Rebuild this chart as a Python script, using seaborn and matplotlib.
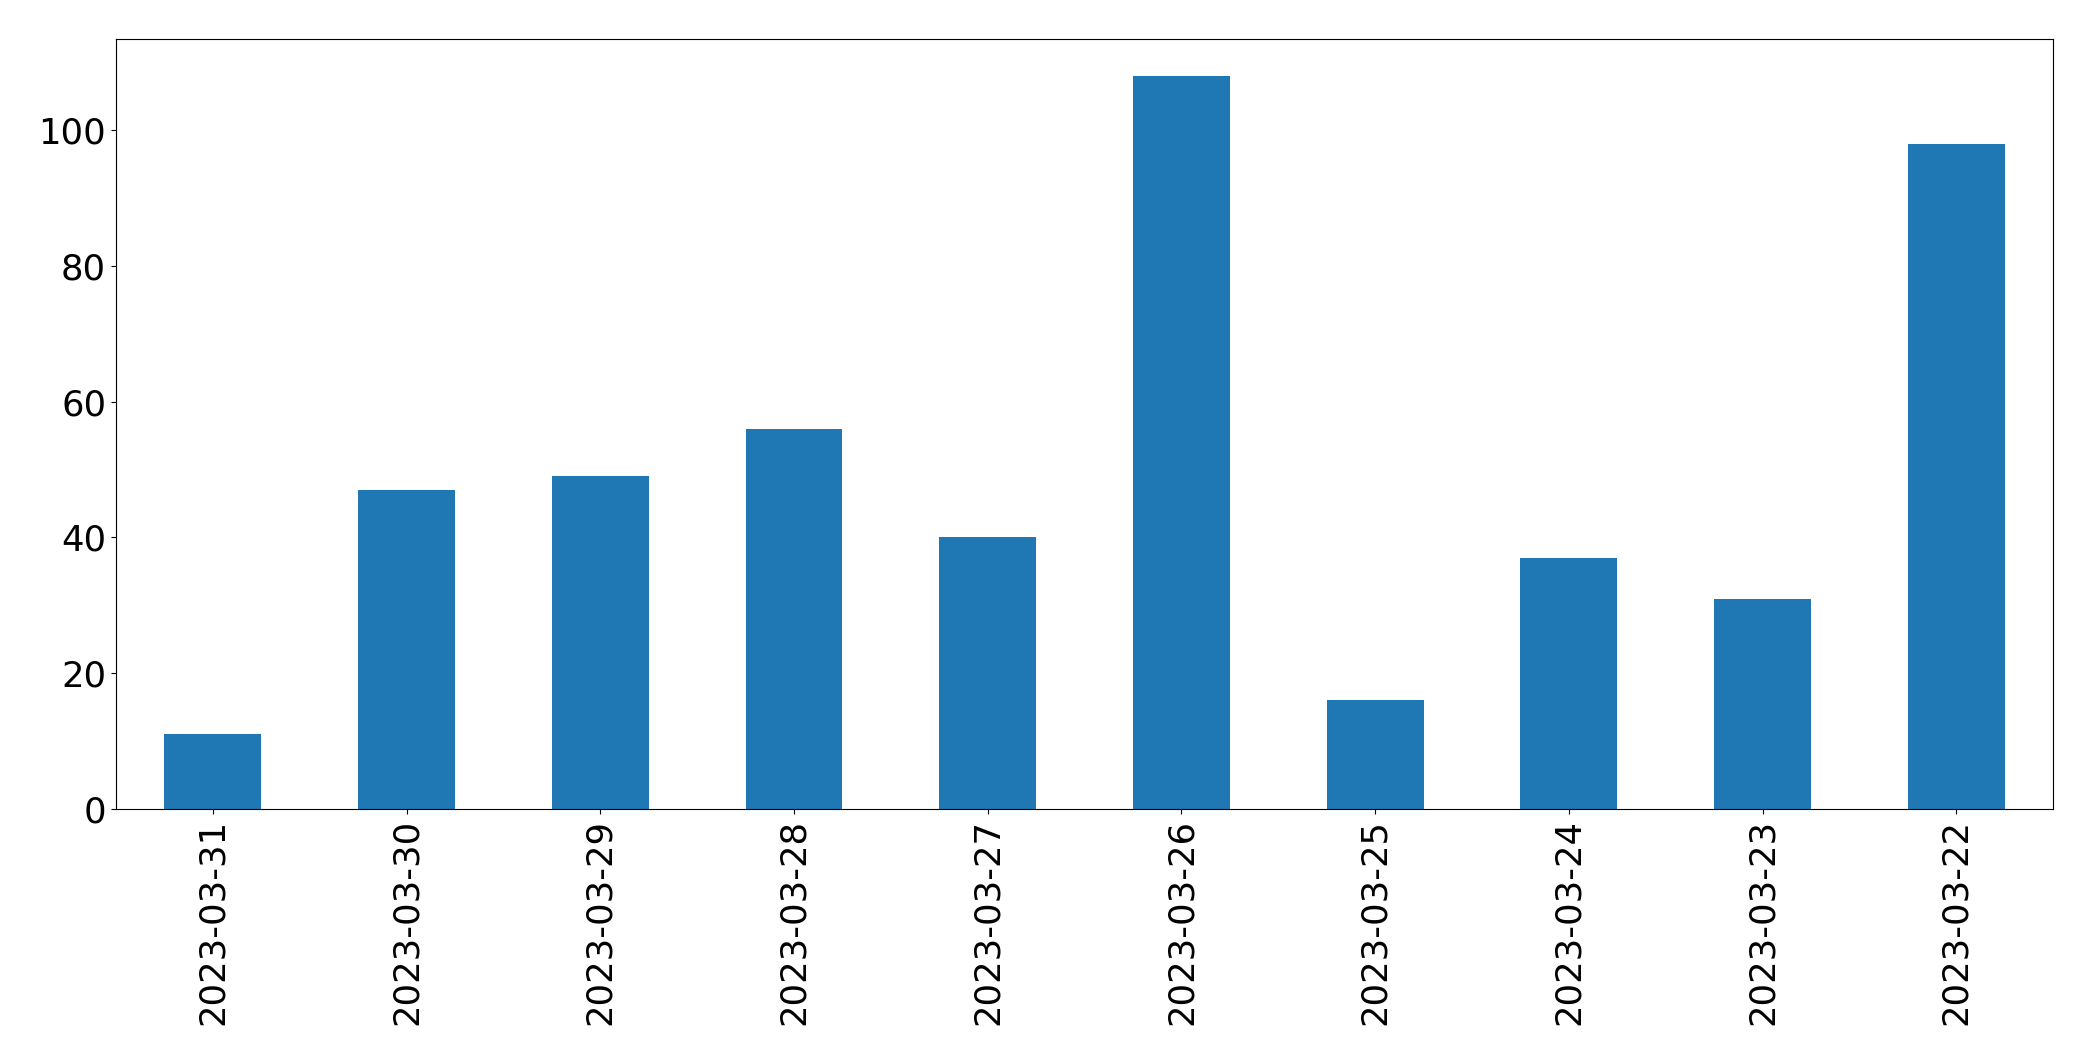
import matplotlib
matplotlib.use("Agg")
import matplotlib.pyplot as plt
import seaborn as sns
import pandas as pd

dates = ["2023-03-31", "2023-03-30", "2023-03-29", "2023-03-28", "2023-03-27",
         "2023-03-26", "2023-03-25", "2023-03-24", "2023-03-23", "2023-03-22"]
counts = [11, 47, 49, 56, 40, 108, 16, 37, 31, 98]

df = pd.DataFrame({"date": dates, "count": counts})

fig, ax = plt.subplots(figsize=(20.93, 10.61), dpi=100)
fig.subplots_adjust(left=0.0554, right=0.981, top=0.963, bottom=0.2375)
sns.barplot(data=df, x="date", y="count", order=dates, color="#1f77b4",
            saturation=1, width=0.5, linewidth=0, ax=ax)
ax.set_xlim(-0.5, len(dates) - 0.5)
ax.set_ylim(0, max(counts) * 1.05)
ax.set_xlabel("")
ax.set_ylabel("")
ax.tick_params(axis="both", labelsize=25.5)
ax.tick_params(axis="x", labelrotation=90)
for s in ax.spines.values():
    s.set_color("black")
fig.savefig("out.png", dpi=100)
